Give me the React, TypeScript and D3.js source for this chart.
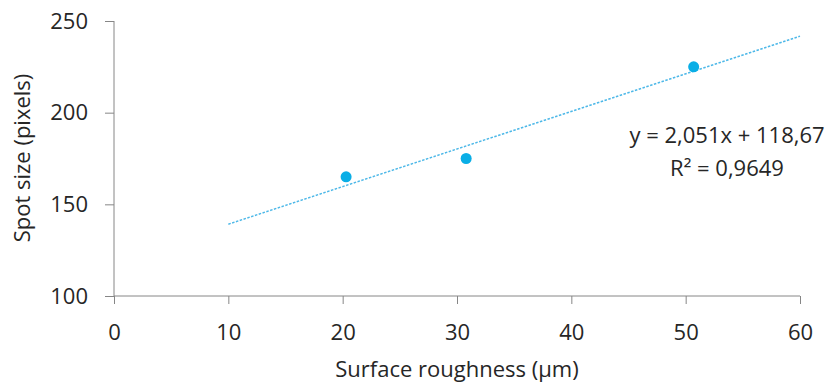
import { useRef, useEffect } from 'react';
import * as d3 from 'd3';

const roughness = [20.3, 30.8, 50.7];
const spotSize = [165, 175, 225];
const xTicks = [0, 10, 20, 30, 40, 50, 60];
const yTicks = [100, 150, 200, 250];
const trendX = [10, 60];
const slope = 2.051;
const intercept = 118.67;

export default function App() {
  const svgRef = useRef<SVGSVGElement>(null);
  const width = 836;
  const height = 385;

  useEffect(() => {
    document.body.style.margin = '0';
    if (!svgRef.current) return;
    const svg = d3.select(svgRef.current);
    svg.selectAll('*').remove();

    const font = 'Open Sans, sans-serif';
    const fs = '22px';
    const ink = '#262626';
    const x = d3.scaleLinear().domain([0, 60]).range([114, 800]);
    const y = d3.scaleLinear().domain([100, 250]).range([296, 21]);

    // Y axis
    svg.append('g')
      .attr('transform', 'translate(114,0)')
      .call(d3.axisLeft(y).tickValues(yTicks).tickSize(9).tickPadding(17))
      .call((el) => el.select('.domain').attr('d', 'M0,' + y(250) + 'V' + y(100)))
      .call((el) => el.selectAll('line, path').attr('stroke', '#868686'))
      .call((el) => el.selectAll('text').attr('font-family', font).attr('font-size', fs).attr('fill', ink));

    // X axis
    svg.append('g')
      .attr('transform', 'translate(0,296)')
      .call(d3.axisBottom(x).tickValues(xTicks).tickSize(8).tickPadding(20))
      .call((el) => el.select('.domain').attr('d', 'M' + x(0) + ',0H' + x(60)))
      .call((el) => el.selectAll('line, path').attr('stroke', '#868686'))
      .call((el) => el.selectAll('text').attr('font-family', font).attr('font-size', fs).attr('fill', ink));

    // Trendline
    const line = d3.line<number>().x((d) => x(d)).y((d) => y(slope * d + intercept));
    svg.append('path')
      .attr('d', line(trendX))
      .attr('fill', 'none')
      .attr('stroke', '#4db8e8')
      .attr('stroke-width', 1.5)
      .attr('stroke-dasharray', '2.5,1.5');

    // Points
    svg.selectAll('circle.pt')
      .data(roughness)
      .join('circle')
      .attr('class', 'pt')
      .attr('cx', (d) => x(d))
      .attr('cy', (_, i) => y(spotSize[i]))
      .attr('r', 5.5)
      .attr('fill', '#0aaee6');

    // Equation label
    const eq = svg.append('text')
      .attr('text-anchor', 'middle')
      .attr('font-family', font)
      .attr('font-size', fs)
      .attr('fill', ink);
    eq.append('tspan').attr('x', 727).attr('y', 143).text('y = 2,051x + 118,67');
    eq.append('tspan').attr('x', 727).attr('y', 176).text('R² = 0,9649');

    // Axis titles
    svg.append('text')
      .attr('x', 457)
      .attr('y', 377)
      .attr('text-anchor', 'middle')
      .attr('font-family', font)
      .attr('font-size', fs)
      .attr('fill', ink)
      .text('Surface roughness (µm)');

    svg.append('text')
      .attr('transform', 'translate(30,158) rotate(-90)')
      .attr('text-anchor', 'middle')
      .attr('font-family', font)
      .attr('font-size', fs)
      .attr('fill', ink)
      .text('Spot size (pixels)');
  }, []);

  return <svg ref={svgRef} width={width} height={height} viewBox={'0 0 ' + width + ' ' + height} style={{ display: 'block', background: '#fff' }} />;
}
